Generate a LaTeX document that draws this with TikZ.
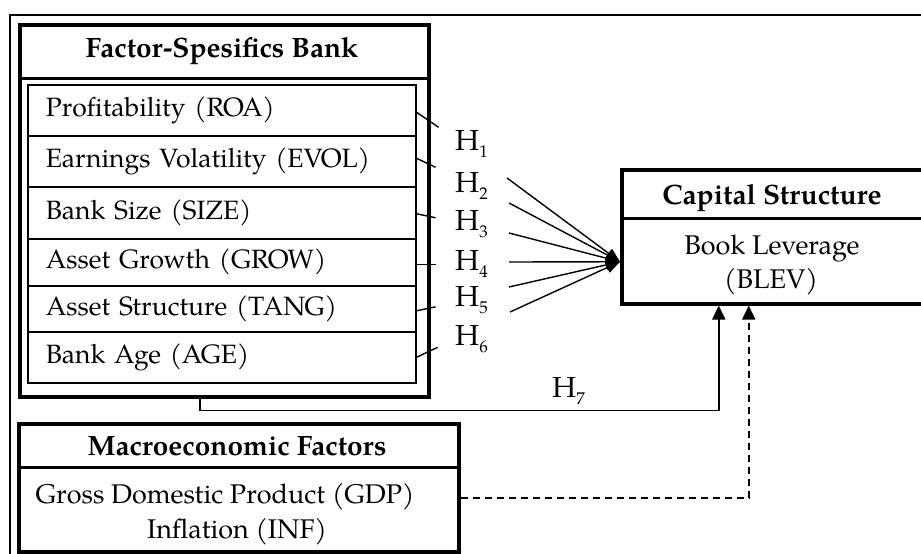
\documentclass[tikz,border=0pt]{standalone}
\usepackage{fontspec}
\setmainfont{texgyrepagella}[Extension=.otf,UprightFont=*-regular,BoldFont=*-bold,ItalicFont=*-italic,BoldItalicFont=*-bolditalic]
\usetikzlibrary{arrows.meta,calc}
\newcommand{\hyp}[1]{H\raisebox{-0.25em}{\fontsize{17}{17}\selectfont #1}}
\begin{document}
\begin{tikzpicture}[x=1pt,y=-1pt,
  bigbox/.style={draw, line width=3.5pt, inner sep=0pt, anchor=north west},
  hdr/.style={font=\bfseries\fontsize{28}{32}\selectfont, inner sep=0pt, anchor=base},
  txt/.style={font=\fontsize{27}{32}\selectfont, inner sep=0pt, anchor=base},
  rowbox/.style={draw, line width=1.6pt, minimum width=388pt, text width=352pt, inner xsep=18pt, inner ysep=0pt, align=left, font=\fontsize{26.5}{32}\selectfont, anchor=north west},
  hlab/.style={font=\fontsize{29}{32}\selectfont, inner sep=0pt, anchor=base west},
  tick/.style={line width=1.4pt},
  fan/.style={line width=1.4pt, -{Triangle[length=14pt,width=11pt]}},
  link/.style={line width=1.6pt, -{Triangle[length=14pt,width=13pt]}},
  dlink/.style={link, dash pattern=on 7pt off 5pt}
]
\useasboundingbox (0,0) rectangle (921,554);
\clip (0,0) rectangle (921,554);
\fill[white] (0,0) rectangle (921,554);
% outer frame
\draw[line width=1.6pt] (10,15) rectangle (940,580);

% Factor-specific bank box
\node[bigbox, minimum width=409pt, minimum height=372pt] (fbox) at (18,23) {};
\draw[line width=3pt] (fbox.west |- 0,78) -- (fbox.east |- 0,78);
\node[hdr] (ftitle) at (222,57) {Factor-Spesifics Bank};
\node[rowbox, minimum height=51pt] (r1) at (27,84) {Profitability (ROA)};
\node[rowbox, minimum height=51pt] (r2) at (27,135) {Earnings Volatility (EVOL)};
\node[rowbox, minimum height=52pt] (r3) at (27,186) {Bank Size (SIZE)};
\node[rowbox, minimum height=47pt] (r4) at (27,238) {Asset Growth (GROW)};
\node[rowbox, minimum height=46pt] (r5) at (27,285) {Asset Structure (TANG)};
\node[rowbox, minimum height=51pt] (r6) at (27,331) {Bank Age (AGE)};

% Capital structure box
\node[bigbox, minimum width=320pt, minimum height=134pt] (cap) at (620,168) {};
\draw[line width=3pt] (cap.west |- 0,218) -- (cap.east |- 0,218);
\node[hdr] (ctitle) at (772,204) {Capital Structure};
\node[txt] (blev1) at (772,254) {Book Leverage};
\node[txt] (blev2) at (771,288) {(BLEV)};

% Macro box
\node[bigbox, minimum width=440pt, minimum height=128pt] (mbox) at (17,422) {};
\draw[line width=3pt] (mbox.west |- 0,467) -- (mbox.east |- 0,467);
\node[hdr] (mtitle) at (237,455) {Macroeconomic Factors};
\node[txt] (gdp) at (225,503) {Gross Domestic Product (GDP)};
\node[txt] (inf) at (237,538) {Inflation (INF)};

% hypothesis labels
\node[hlab] (h1) at (455,150) {\hyp{1}};
\node[hlab] (h2) at (455,192) {\hyp{2}};
\node[hlab] (h3) at (455,230) {\hyp{3}};
\node[hlab] (h4) at (455,270) {\hyp{4}};
\node[hlab] (h5) at (455,306) {\hyp{5}};
\node[hlab] (h6) at (455,345) {\hyp{6}};
\node[hlab] (h7) at (552,397) {\hyp{7}};

% ticks from the rows
\draw[tick] ([yshift=-2pt]r1.east) -- ++(22,15);
\draw[tick] ([yshift=3pt]r2.east) -- ++(19,9);
\draw[tick] ([yshift=-1pt]r3.east) -- ++(19,4);
\draw[tick] ([yshift=-2pt]r4.east) -- ++(19,0);
\draw[tick] ([yshift=-2pt]r5.east) -- ++(19,-4);
\draw[tick] ([yshift=0pt]r6.east) -- ++(21,-10);

% fan of arrows
\coordinate (tgt) at ([yshift=-25pt]cap.west);
\coordinate (f2) at (507,178);
\coordinate (f3) at (509,203);
\coordinate (f4) at (509,233);
\coordinate (f5) at (509,262);
\coordinate (f6) at (509,287);
\coordinate (f7) at (510,312);
\foreach \c in {f2,f3,f4,f5,f6,f7} \draw[fan] (\c) -- (tgt);

% H7 link
\draw[link] ([xshift=-24.5pt]fbox.south) -- ++(0,12) -| ([xshift=-63pt]cap.south);
% macro dashed link
\draw[dlink] (mbox.east |- 0,498) -| ([xshift=-33pt]cap.south);
\end{tikzpicture}
\end{document}
